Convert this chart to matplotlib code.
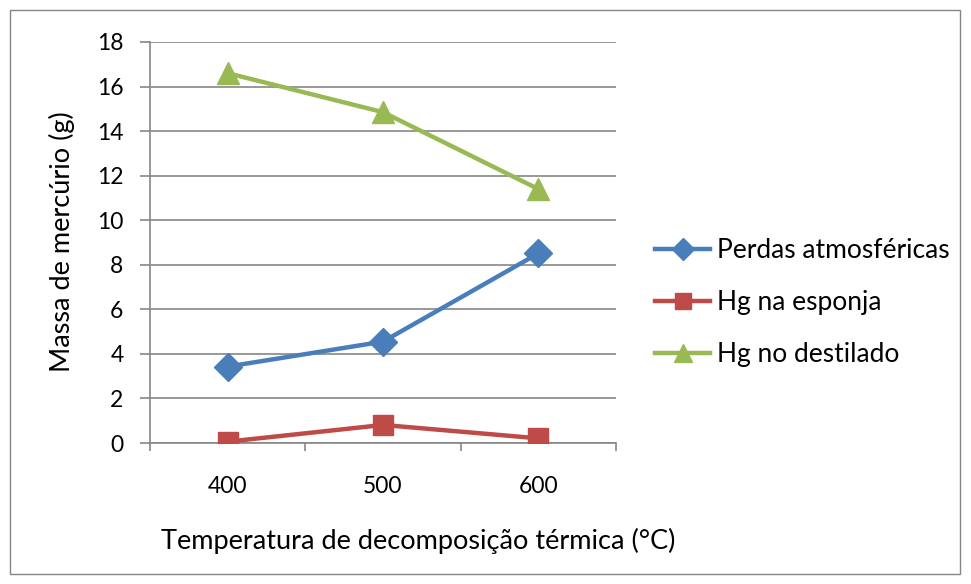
import matplotlib
matplotlib.use("Agg")
import matplotlib.pyplot as plt
from matplotlib.patches import Rectangle

categories = ["400", "500", "600"]
perdas = [3.43, 4.55, 8.51]
esponja = [0.06, 0.81, 0.21]
destilado = [16.6, 14.85, 11.4]
series_names = ["Perdas atmosféricas", "Hg na esponja", "Hg no destilado"]
y_ticks = [0, 2, 4, 6, 8, 10, 12, 14, 16, 18]

plt.rcParams['font.family'] = ['Lato', 'DejaVu Sans']

W, H = 971, 584
fig = plt.figure(figsize=(W / 100, H / 100), dpi=100)
fig.patches.append(Rectangle((10 / W, 10 / H), 950 / W, 564 / H, transform=fig.transFigure,
                             fill=False, edgecolor="#868686", linewidth=1.0))

ax = fig.add_axes([150 / W, (H - 443) / H, (616 - 150) / W, (443 - 42) / H])
grid_c = "#868686"
x = list(range(len(categories)))
ax.plot(x, perdas, color="#4A7EBB", lw=3.2, marker="D", ms=14, label=series_names[0], zorder=3)
ax.plot(x, esponja, color="#BE4B48", lw=3.2, marker="s", ms=15, label=series_names[1], zorder=3)
ax.plot(x, destilado, color="#98B954", lw=3.2, marker="^", ms=16, label=series_names[2], zorder=3)

ax.set_xlim(-0.5, 2.5)
ax.set_ylim(0, 18)
ax.set_yticks(y_ticks)
ax.set_xticks(x)
ax.set_xticklabels(categories)
ax.set_xticks([-0.5, 0.5, 1.5, 2.5], minor=True)
ax.tick_params(axis="x", which="major", length=0, pad=24, labelsize=16.5)
ax.tick_params(axis="x", which="minor", length=6, color=grid_c, width=1.2, direction="out")
ax.tick_params(axis="y", length=7, color=grid_c, width=1.2, direction="out", pad=12, labelsize=16.5)
ax.yaxis.grid(True, color=grid_c, lw=1.2)
ax.set_axisbelow(True)
for s in ["top", "right"]:
    ax.spines[s].set_visible(False)
for s in ["left", "bottom"]:
    ax.spines[s].set_color(grid_c)
    ax.spines[s].set_linewidth(1.2)

fig.text(418 / W, 1 - 541 / H, "Temperatura de decomposição térmica (°C)", ha="center", va="center", fontsize=19.5)
fig.text(62 / W, 1 - 242 / H, "Massa de mercúrio (g)", ha="center", va="center", rotation=90, fontsize=19.5)

leg = fig.legend(loc="upper left", bbox_to_anchor=(655 / W, 1 - 238 / H), frameon=False, borderpad=0,
                 borderaxespad=0, fontsize=19, handlelength=2.1, handletextpad=0.25, labelspacing=1.03,
                 markerscale=0.8)

fig.savefig("out.png", dpi=100)
